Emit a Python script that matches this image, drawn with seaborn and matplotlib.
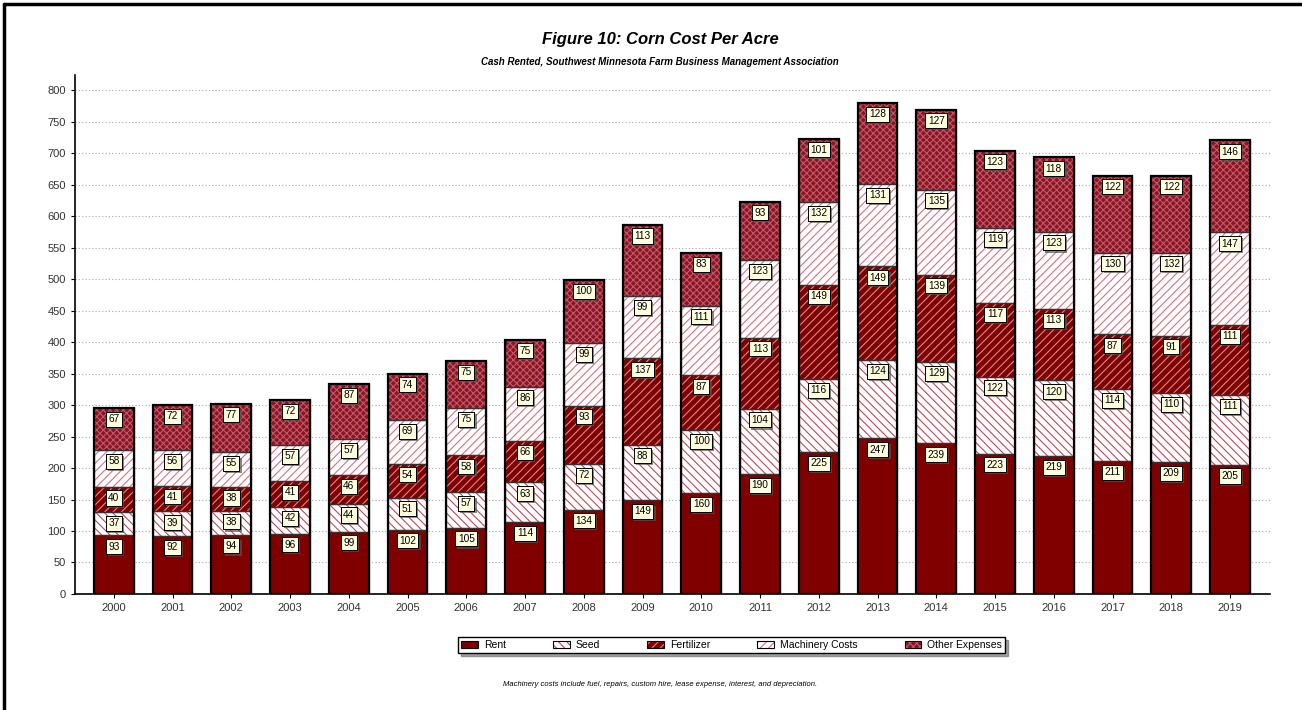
import numpy as np
import pandas as pd
import seaborn as sns
import matplotlib.pyplot as plt
import matplotlib.patheffects as pe
from matplotlib.patches import Patch
from matplotlib.lines import Line2D

# Corn cost per acre, cash rented, SW Minnesota FBM Association
years = [str(y) for y in range(2000, 2020)]
rent = [93, 92, 94, 96, 99, 102, 105, 114, 134, 149, 160, 190, 225, 247, 239, 223, 219, 211, 209, 205]
seed = [37, 39, 38, 42, 44, 51, 57, 63, 72, 88, 100, 104, 116, 124, 129, 122, 120, 114, 110, 111]
fertilizer = [40, 41, 38, 41, 46, 54, 58, 66, 93, 137, 87, 113, 149, 149, 139, 117, 113, 87, 91, 111]
machinery = [58, 56, 55, 57, 57, 69, 75, 86, 99, 99, 111, 123, 132, 131, 135, 119, 123, 130, 132, 147]
other = [67, 72, 77, 72, 87, 74, 75, 75, 100, 113, 83, 93, 101, 128, 127, 123, 118, 122, 122, 146]

series_names = ["Rent", "Seed", "Fertilizer", "Machinery Costs", "Other Expenses"]
series_values = [rent, seed, fertilizer, machinery, other]

# face colour, hatch, hatch colour
styles = [
    ("#800000", None, "#800000"),
    ("white", "\\\\\\\\", "#c04858"),
    ("#800000", "////", "#d88890"),
    ("white", "////", "#d87080"),
    ("#8a1422", "xxxxx", "#c05a6a"),
]

sns.set_style("white")
plt.rcParams['font.family'] = ['Liberation Sans', 'DejaVu Sans']
plt.rcParams['hatch.linewidth'] = 0.8
plt.rcParams['text.color'] = 'black'

fig = plt.figure(figsize=(13.02, 7.10), dpi=100)
ax = fig.add_axes([0.0576, 0.1634, 0.9178, 0.7310])

bottom = np.zeros(len(years))
for name, vals, (fc, hatch, hc) in zip(series_names, series_values, styles):
    df = pd.DataFrame({"year": years, "cost": vals})
    sns.barplot(data=df, x="year", y="cost", bottom=bottom, width=0.68, errorbar=None,
                color=fc, saturation=1, facecolor=fc, edgecolor=hc, hatch=hatch,
                linewidth=0, ax=ax, zorder=2)
    sns.barplot(data=df, x="year", y="cost", bottom=bottom, width=0.68, errorbar=None,
                color="black", saturation=1, facecolor="none", edgecolor="#333333",
                linewidth=0.9, ax=ax, zorder=3)
    for i, (v, b) in enumerate(zip(vals, bottom)):
        t = ax.annotate(str(v), (i, b + v), xytext=(0, -8), textcoords="offset points",
                        ha="center", va="center", fontsize=7.3, zorder=6,
                        bbox=dict(boxstyle="square,pad=0.25", fc="#ffffe0", ec="black", lw=0.7))
        t.get_bbox_patch().set_path_effects(
            [pe.withSimplePatchShadow(offset=(1.5, -1.5), shadow_rgbFace="#555555", alpha=0.7),
             pe.Normal()])
    bottom = bottom + np.array(vals)

# outer outline of each stacked bar
sns.barplot(x=years, y=bottom, width=0.68, errorbar=None, color="black", saturation=1,
            facecolor="none", edgecolor="black", linewidth=1.6, ax=ax, zorder=4)

ax.set_xlim(-0.66, 19.68)
ax.set_ylim(0, 824)
ax.set_yticks(range(0, 801, 50))
ax.set_xlabel("")
ax.set_ylabel("")
ax.yaxis.grid(True, linestyle=(0, (1, 2)), color="#aaaaaa", lw=0.8)
ax.xaxis.grid(False)
ax.set_axisbelow(True)
ax.tick_params(axis="both", labelsize=8, length=3, bottom=True, left=True,
               color="black", labelcolor="#333333")
for s in ["top", "right"]:
    ax.spines[s].set_visible(False)
for s in ["left", "bottom"]:
    ax.spines[s].set_color("black")
    ax.spines[s].set_linewidth(1.2)

fig.text(0.507, 0.9437, "Figure 10: Corn Cost Per Acre", ha="center", va="center",
         fontsize=12, fontweight="bold", style="italic")
fig.text(0.507, 0.9127, "Cash Rented, Southwest Minnesota Farm Business Management Association",
         ha="center", va="center", fontsize=7, fontweight="bold", style="italic")
fig.text(0.507, 0.0366,
         "Machinery costs include fuel, repairs, custom hire, lease expense, interest, and depreciation.",
         ha="center", va="center", fontsize=5.5, style="italic")

handles = []
for fc, hatch, hc in styles:
    handles.append((Patch(facecolor=fc, hatch=hatch, edgecolor=hc, linewidth=0),
                    Patch(facecolor="none", edgecolor="black", linewidth=0.8)))
leg = fig.legend(handles, series_names, loc="center", bbox_to_anchor=(0.562, 0.0915),
                 ncol=5, fontsize=7.5, frameon=True, fancybox=False, shadow=True,
                 handlelength=1.6, handleheight=0.7, handletextpad=0.6, columnspacing=4.5,
                 borderpad=0.3)
leg.get_frame().set_edgecolor("black")
leg.get_frame().set_linewidth(1.0)

# page border
fig.add_artist(Line2D([4 / 1302, 1], [1 - 4 / 710, 1 - 4 / 710], transform=fig.transFigure,
                      color="black", lw=2.5))
fig.add_artist(Line2D([4 / 1302, 4 / 1302], [0, 1 - 4 / 710], transform=fig.transFigure,
                      color="black", lw=2.5))

fig.savefig("out.png", dpi=100)
